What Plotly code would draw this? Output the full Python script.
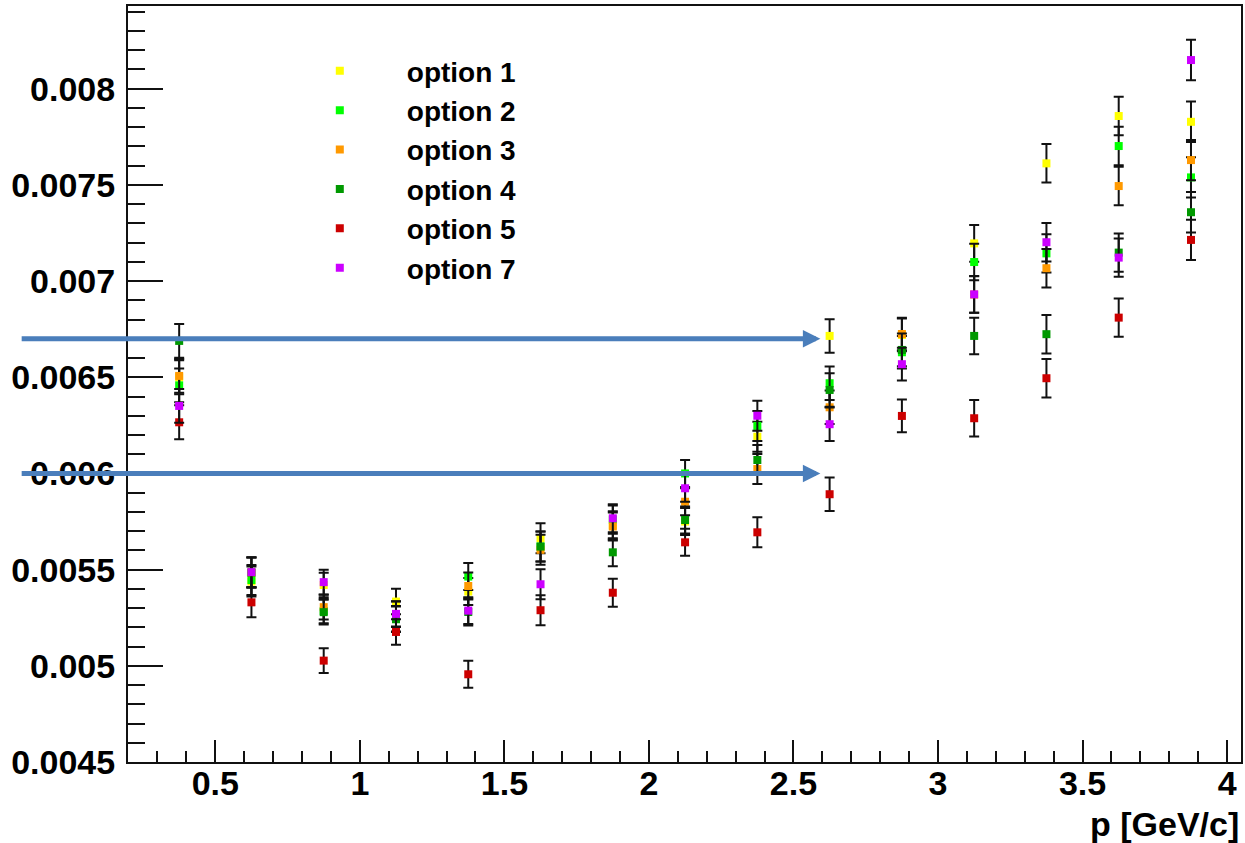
import plotly.graph_objects as go

# Momentum bin centres [GeV/c]
p_bins = [0.375, 0.625, 0.875, 1.125, 1.375, 1.625, 1.875, 2.125,
          2.375, 2.625, 2.875, 3.125, 3.375, 3.625, 3.875]

# Values for each option
option_1 = [0.006500, 0.005438, 0.005420, 0.005334, 0.005386, 0.005663, 0.005730, 0.005750,
            0.006191, 0.006715, 0.006720, 0.007196, 0.007612, 0.007858, 0.007828]
option_2 = [0.006458, 0.005446, 0.005285, 0.005245, 0.005464, 0.005620, 0.005760, 0.006000,
            0.006247, 0.006469, 0.006630, 0.007099, 0.007144, 0.007702, 0.007539]
option_3 = [0.006507, 0.005485, 0.005305, 0.005268, 0.005415, 0.005603, 0.005724, 0.005853,
            0.006023, 0.006344, 0.006725, 0.006930, 0.007067, 0.007494, 0.007629]
option_4 = [0.006689, 0.005485, 0.005279, 0.005242, 0.005280, 0.005620, 0.005590, 0.005758,
            0.006070, 0.006434, 0.006642, 0.006715, 0.006724, 0.007148, 0.007358]
option_5 = [0.006266, 0.005330, 0.005027, 0.005176, 0.004956, 0.005289, 0.005380, 0.005642,
            0.005694, 0.005892, 0.006299, 0.006287, 0.006495, 0.006810, 0.007214]
option_7 = [0.006351, 0.005487, 0.005435, 0.005270, 0.005287, 0.005424, 0.005767, 0.005923,
            0.006300, 0.006256, 0.006568, 0.006931, 0.007202, 0.007122, 0.008149]

# Statistical uncertainty per bin (shared by all options)
errors = [0.000088, 0.000078, 0.000064, 0.000066, 0.000070, 0.000078, 0.000073, 0.000070,
          0.000078, 0.000087, 0.000085, 0.000095, 0.000100, 0.000100, 0.000105]

series_names = ["option 1", "option 2", "option 3", "option 4", "option 5", "option 7"]
series_values = [option_1, option_2, option_3, option_4, option_5, option_7]
series_colors = ["#FFFF00", "#00FF00", "#FF9900", "#009900", "#CC0000", "#CC00FF"]

# Axis ticks
x_tick_vals = [0.5, 1, 1.5, 2, 2.5, 3, 3.5, 4]
x_tick_text = ["0.5", "1", "1.5", "2", "2.5", "3", "3.5", "4"]
y_tick_vals = [0.0045, 0.005, 0.0055, 0.006, 0.0065, 0.007, 0.0075, 0.008]
y_tick_text = ["0.0045", "0.005", "0.0055", "0.006", "0.0065", "0.007", "0.0075", "0.008"]

# Reference levels marked with arrows
ref_levels = [0.00670, 0.00600]
arrow_tail_p = -0.175
arrow_tip_p = 2.593

FONT = "Liberation Sans, Arial, Helvetica, sans-serif"

fig = go.Figure()
for name, vals, col in zip(series_names, series_values, series_colors):
    fig.add_trace(go.Scatter(
        x=p_bins, y=vals, name=name, mode="markers",
        marker=dict(symbol="square", size=8, color=col, line=dict(width=0)),
        error_y=dict(type="data", array=errors, visible=True,
                     color="#111111", thickness=2, width=5),
        cliponaxis=False,
    ))

for lvl in ref_levels:
    fig.add_annotation(
        x=arrow_tip_p, y=lvl, xref="x", yref="y",
        ax=arrow_tail_p, ay=lvl, axref="x", ayref="y",
        text="", showarrow=True, arrowhead=2, arrowsize=0.7,
        arrowwidth=5, arrowcolor="#4A7EBB", standoff=0,
    )

fig.add_annotation(
    x=1, y=-0.082, xref="paper", yref="paper", xanchor="right", yanchor="middle",
    text="p [GeV/c]", showarrow=False,
    font=dict(family=FONT, size=34, color="black", weight="bold"),
)

axis_font = dict(family=FONT, size=34, color="black", weight="bold")

fig.update_xaxes(
    range=[0.198, 4.048], tickvals=x_tick_vals, ticktext=x_tick_text,
    ticks="inside", ticklen=22, tickwidth=2, tickcolor="#111111",
    minor=dict(dtick=0.1, tick0=0, ticks="inside", ticklen=11, tickwidth=2, tickcolor="#111111"),
    showline=True, linecolor="#111111", linewidth=2, mirror=True,
    showgrid=False, zeroline=False, tickfont=axis_font, ticklabelstandoff=-10,
)
fig.update_yaxes(
    range=[0.0045, 0.00843], tickvals=y_tick_vals, ticktext=y_tick_text,
    ticks="inside", ticklen=35, tickwidth=2, tickcolor="#111111",
    minor=dict(dtick=0.0001, tick0=0, ticks="inside", ticklen=17, tickwidth=2, tickcolor="#111111"),
    showline=True, linecolor="#111111", linewidth=2, mirror=True,
    showgrid=False, zeroline=False, tickfont=axis_font, ticklabelstandoff=4,
)

fig.update_layout(
    width=1245, height=843,
    margin=dict(l=128, r=2, t=6, b=81),
    plot_bgcolor="white", paper_bgcolor="white",
    showlegend=True,
    legend=dict(
        x=0.1301, y=0.947, xanchor="left", yanchor="top",
        bgcolor="rgba(0,0,0,0)", borderwidth=0,
        font=dict(family=FONT, size=28, color="black", weight="bold"),
        itemwidth=124, tracegroupgap=0,
    ),
)

fig.write_html("out.html")
